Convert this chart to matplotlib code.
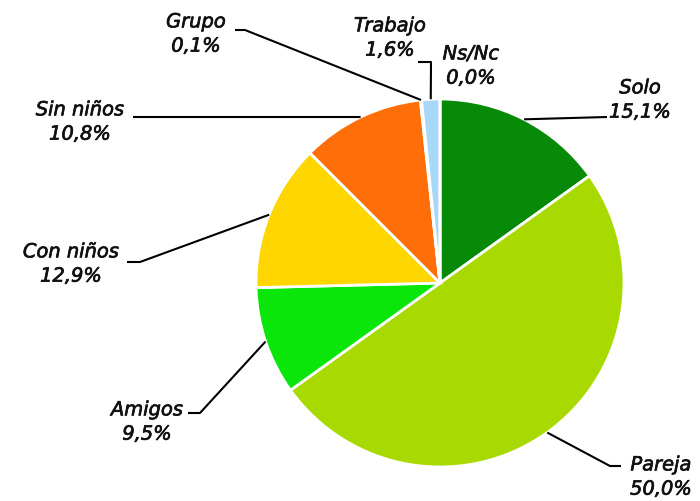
import numpy as np
import matplotlib
matplotlib.use("Agg")
import matplotlib.pyplot as plt
import matplotlib.patheffects as pe

# datos (porcentajes)
labels = ['Solo', 'Pareja', 'Amigos', 'Con niños', 'Sin niños', 'Grupo', 'Trabajo', 'Ns/Nc']
values = [15.1, 50.0, 9.5, 12.9, 10.8, 0.1, 1.6, 0.0]
pct_text = ['15,1%', '50,0%', '9,5%', '12,9%', '10,8%', '0,1%', '1,6%', '0,0%']
colors = ['#078a07', '#a8d900', '#0ae60a', '#ffd600', '#ff6e08', '#7030a0', '#a8d8f8', '#ffffff']

W, H = 700, 501
fig = plt.figure(figsize=(7, 5.01), dpi=100)
ax = fig.add_axes([0, 0, 1, 1])

cx, cy, R = 440, H - 283, 184
wedges, _ = ax.pie(values, colors=colors, startangle=90, counterclock=False,
                   center=(cx, cy), radius=R, frame=True,
                   wedgeprops=dict(edgecolor='white', linewidth=2))
ax.set_xlim(0, W)
ax.set_ylim(0, H)
ax.set_aspect('equal')
ax.axis('off')

# posiciones de etiquetas (pixeles, y desde arriba) y puntos de la linea guia
layout = {
    'Solo':      dict(tx=640, ty=100, pts=[(607, 117)]),
    'Pareja':    dict(tx=661, ty=477, pts=[(610, 466), (621, 466)]),
    'Amigos':    dict(tx=147, ty=422, pts=[(200, 413), (188, 413)]),
    'Con niños': dict(tx=71, ty=264, pts=[(140, 262), (127, 262)]),
    'Sin niños': dict(tx=80, ty=122, pts=[(133, 117)]),
    'Grupo':     dict(tx=196, ty=34, pts=[(245, 30), (235, 30)]),
    'Trabajo':   dict(tx=390, ty=38, pts=[(431, 62), (418, 62)]),
    'Ns/Nc':     dict(tx=471, ty=66, pts=None),
}

font = dict(family='DejaVu Sans', style='italic', fontsize=14, color='#111111')
stroke = [pe.withStroke(linewidth=0.5, foreground='#111111')]

for w, lab, pt in zip(wedges, labels, pct_text):
    L = layout[lab]
    mid = np.deg2rad((w.theta1 + w.theta2) / 2)
    sx = cx + R * np.cos(mid)
    sy = cy + R * np.sin(mid)
    if L['pts'] is not None:
        xs = [sx] + [p[0] for p in L['pts']]
        ys = [sy] + [H - p[1] for p in L['pts']]
        ax.plot(xs, ys, color='black', lw=1.5, solid_capstyle='butt')
    ax.text(L['tx'], H - L['ty'], lab + '\n' + pt, ha='center', va='center',
            linespacing=1.35, path_effects=stroke, **font)

fig.savefig('out.png', dpi=100)
